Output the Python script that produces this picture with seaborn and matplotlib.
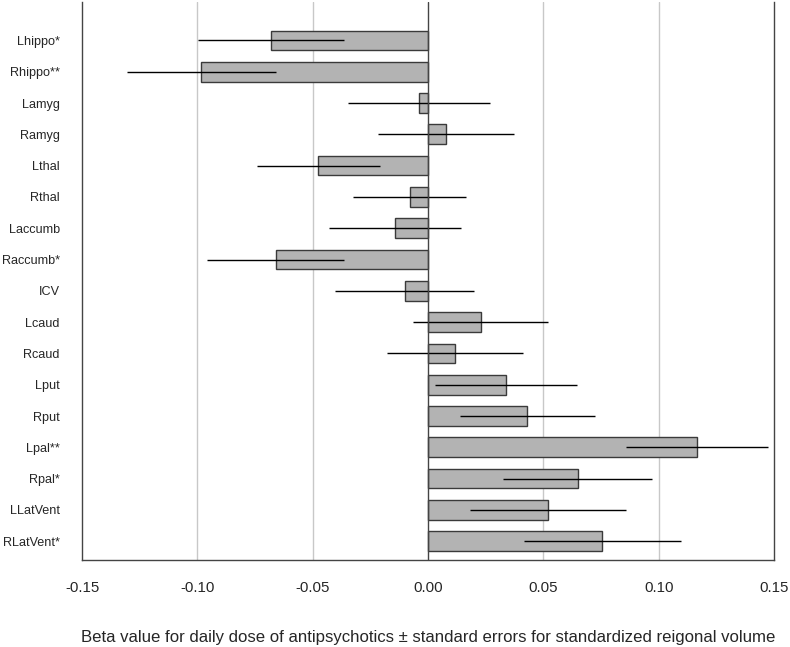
import numpy as np
import pandas as pd
import seaborn as sns
import matplotlib.pyplot as plt

# Regions and beta values
regions = ['Lhippo*', 'Rhippo**', 'Lamyg', 'Ramyg', 'Lthal', 'Rthal', 'Laccumb',
           'Raccumb*', 'ICV', 'Lcaud', 'Rcaud', 'Lput', 'Rput', 'Lpal**', 'Rpal*',
           'LLatVent', 'RLatVent*']
beta = [-0.0679, -0.0983, -0.0040, 0.0077, -0.0475, -0.0079, -0.0143,
        -0.0661, -0.0101, 0.0228, 0.0116, 0.0338, 0.0430, 0.1166, 0.0649,
        0.0520, 0.0756]
se = [0.0317, 0.0324, 0.0308, 0.0295, 0.0268, 0.0244, 0.0284,
      0.0297, 0.0302, 0.0292, 0.0294, 0.0308, 0.0293, 0.0308, 0.0323,
      0.0338, 0.0340]
xticks = [-0.15, -0.10, -0.05, 0.00, 0.05, 0.10, 0.15]

df = pd.DataFrame({'region': regions, 'beta': beta, 'se': se})

sns.set_style('white')
plt.rcParams['font.family'] = ['Liberation Sans', 'DejaVu Sans']

fig = plt.figure(figsize=(7.9, 6.47), dpi=100)
ax = fig.add_axes([0.1038, 0.1345, 0.8759, 0.862])

sns.barplot(data=df, x='beta', y='region', orient='h', color='#b3b3b3',
            edgecolor='#3a3a3a', linewidth=1.0, width=0.63, saturation=1,
            errorbar=None, ax=ax, zorder=3)
ax.errorbar(df['beta'], np.arange(len(df)), xerr=df['se'], fmt='none',
            ecolor='black', elinewidth=1.0, capsize=0, zorder=4)

for v in [-0.10, -0.05, 0.05, 0.10]:
    ax.axvline(v, color='#c8c8c8', linewidth=1.0, zorder=1)
ax.axvline(0, color='#444444', linewidth=1.0, zorder=5)

ax.set_xlim(-0.15, 0.15)
ax.set_ylim(16.6, -1.22)
ax.set_xticks(xticks)
ax.set_xticklabels([f'{t:.2f}' for t in xticks], fontsize=10.8)
ax.tick_params(axis='x', direction='in', length=5, width=1, color='#444444', pad=15)
ax.tick_params(axis='y', length=0, pad=16, labelsize=9.1)
ax.set_ylabel('')
ax.set_xlabel('Beta value for daily dose of antipsychotics \u00b1 standard errors for standardized reigonal volume',
              fontsize=12.1, labelpad=25)

for side in ['left', 'right', 'bottom']:
    ax.spines[side].set_color('#444444')
    ax.spines[side].set_linewidth(1.0)
ax.spines['top'].set_visible(False)

fig.savefig('out.png', dpi=100)
